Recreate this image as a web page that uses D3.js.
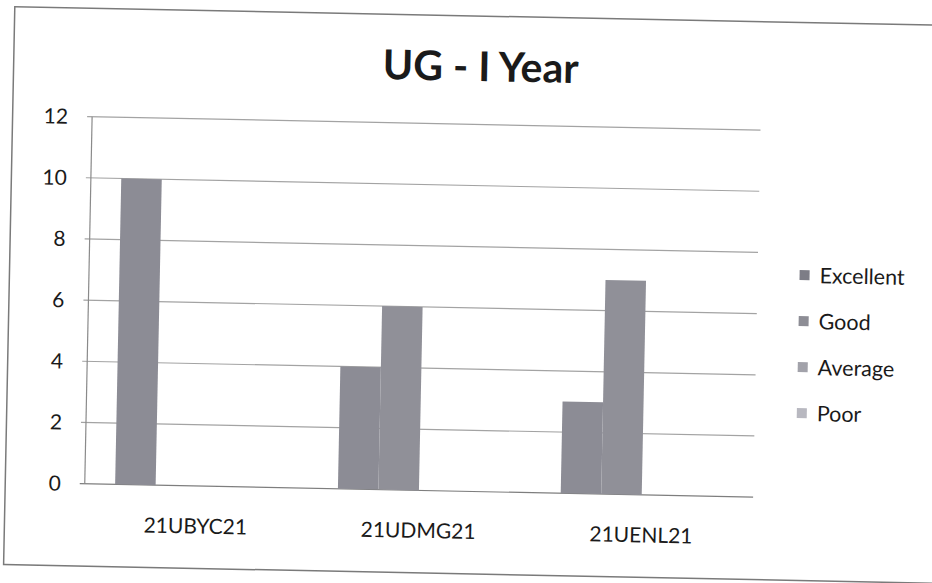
<!DOCTYPE html>
<html>
<head>
<meta charset="utf-8">
<script src="https://cdn.jsdelivr.net/npm/d3@7"></script>
<style>
  body { margin: 0; background: #fff; }
  text { font-family: Lato, "Open Sans", sans-serif; fill: #1a1a1a; }
</style>
</head>
<body>
<div id="chart"></div>
<script>
// data
var categories = ["21UBYC21", "21UDMG21", "21UENL21"];
var seriesNames = ["Excellent", "Good", "Average", "Poor"];
var excellent = [10, 4, 3];
var good = [0, 6, 7];
var average = [0, 0, 0];
var poor = [0, 0, 0];
var yTicks = [0, 2, 4, 6, 8, 10, 12];

var seriesValues = [excellent, good, average, poor];
var barColors = ["#8c8c95", "#909098", "#a4a4ac", "#babac2"];
var legendColors = ["#7d7d86", "#8d8d95", "#a2a2aa", "#b8b8c0"];

var W = 932, H = 583;
var plot = { left: 88.5, right: 757, top: 123.4, bottom: 490.5 };

var svg = d3.select("#chart")
    .append("svg")
    .attr("width", W)
    .attr("height", H);

// the scan is tilted a little, so the whole chart is turned
var root = svg.append("g")
    .attr("transform", "rotate(1.15, 425, 300)");

// outer chart border
root.append("rect")
    .attr("x", 9).attr("y", 15)
    .attr("width", 980).attr("height", 558)
    .attr("fill", "none")
    .attr("stroke", "#7a7a7a")
    .attr("stroke-width", 1.5);

var x0 = d3.scaleBand()
    .domain(categories)
    .range([plot.left, plot.right])
    .paddingInner(0)
    .paddingOuter(0);

var x1 = d3.scaleBand()
    .domain(seriesNames)
    .range([0, x0.bandwidth()])
    .paddingInner(0)
    .paddingOuter(0.75);

var y = d3.scaleLinear()
    .domain([0, 12])
    .range([plot.bottom, plot.top]);

// gridlines
root.append("g")
    .selectAll("line")
    .data(yTicks)
    .enter()
    .append("line")
    .attr("x1", plot.left - 5)
    .attr("x2", plot.right)
    .attr("y1", function (d) { return y(d); })
    .attr("y2", function (d) { return y(d); })
    .attr("stroke", function (d) { return d === 0 ? "#7e7e7e" : "#a3a3a3"; })
    .attr("stroke-width", 1.2);

// y axis line
root.append("line")
    .attr("x1", plot.left).attr("x2", plot.left)
    .attr("y1", y(12)).attr("y2", y(0))
    .attr("stroke", "#8a8a8a")
    .attr("stroke-width", 1.2);

// y tick labels
root.append("g")
    .selectAll("text")
    .data(yTicks)
    .enter()
    .append("text")
    .attr("x", plot.left - 24)
    .attr("y", function (d) { return y(d); })
    .attr("dy", "0.36em")
    .attr("text-anchor", "end")
    .attr("font-size", 21)
    .text(function (d) { return d; });

// bars
var bars = [];
for (var s = 0; s < seriesNames.length; s++) {
    for (var c = 0; c < categories.length; c++) {
        bars.push({ series: seriesNames[s], cat: categories[c], value: seriesValues[s][c], color: barColors[s] });
    }
}

root.append("g")
    .selectAll("rect")
    .data(bars.filter(function (d) { return d.value > 0; }))
    .enter()
    .append("rect")
    .attr("x", function (d) { return x0(d.cat) + x1(d.series); })
    .attr("width", x1.bandwidth())
    .attr("y", function (d) { return y(d.value); })
    .attr("height", function (d) { return y(0) - y(d.value); })
    .attr("fill", function (d) { return d.color; });

// category labels
root.append("g")
    .selectAll("text")
    .data(categories)
    .enter()
    .append("text")
    .attr("x", function (d) { return x0(d) + x0.bandwidth() / 2; })
    .attr("y", 538)
    .attr("text-anchor", "middle")
    .attr("font-size", 21)
    .text(function (d) { return d; });

// title
root.append("text")
    .attr("x", 476)
    .attr("y", 80)
    .attr("text-anchor", "middle")
    .attr("font-size", 41)
    .attr("font-weight", "bold")
    .text("UG - I Year");

// legend
var legend = root.append("g")
    .selectAll("g")
    .data(seriesNames)
    .enter()
    .append("g")
    .attr("transform", function (d, i) { return "translate(804," + (267.5 + i * 46) + ")"; });

legend.append("rect")
    .attr("x", -5).attr("y", -5)
    .attr("width", 10).attr("height", 10)
    .attr("fill", function (d, i) { return legendColors[i]; });

legend.append("text")
    .attr("x", 15)
    .attr("dy", "0.36em")
    .attr("font-size", 21.5)
    .text(function (d) { return d; });
</script>
</body>
</html>
